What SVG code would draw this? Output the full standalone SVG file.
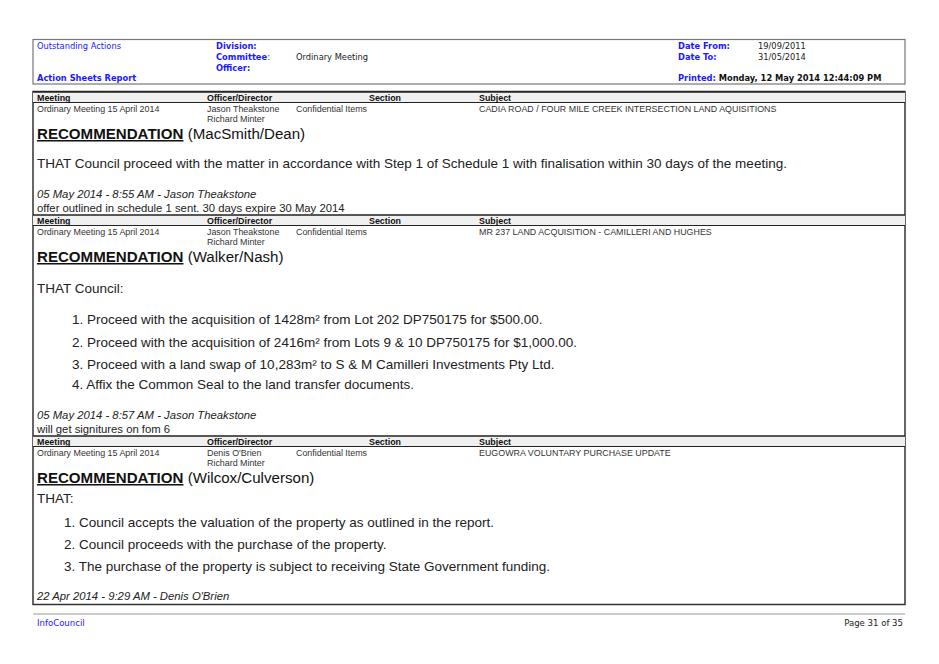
<svg xmlns="http://www.w3.org/2000/svg" width="939" height="664" viewBox="0 0 939 664">
<style>
.h{font-family:"DejaVu Sans",Verdana,sans-serif;font-size:8.3px;fill:#1a1aff}
.hb{font-family:"DejaVu Sans",Verdana,sans-serif;font-size:8.3px;font-weight:bold;fill:#1a1aff}
.hk{font-family:"DejaVu Sans",Verdana,sans-serif;font-size:8.3px;fill:#222}
.th{font-family:"Liberation Sans",Arial,sans-serif;font-size:8.9px;font-weight:bold;fill:#111}
.td{font-family:"Liberation Sans",Arial,sans-serif;font-size:8.9px;fill:#333}
.rec{font-family:"Liberation Sans",Arial,sans-serif;font-size:15.1px;fill:#111}
.b{font-family:"Liberation Sans",Arial,sans-serif;font-size:13.5px;fill:#222}
.it{font-family:"Liberation Sans",Arial,sans-serif;font-size:11.3px;font-style:italic;fill:#222}
.n{font-family:"Liberation Sans",Arial,sans-serif;font-size:11.3px;fill:#222}
</style>
<rect width="939" height="664" fill="#fff"/>
<g id="header">
<rect x="33" y="39.5" width="872" height="44.5" fill="none" stroke="#777" stroke-width="1.2"/>
<text class="h" x="37" y="49">Outstanding Actions</text>
<text class="hb" x="37" y="81">Action Sheets Report</text>
<text class="hb" x="216" y="49">Division:</text>
<text class="hb" x="216" y="60">Committee<tspan font-weight="normal">:</tspan></text>
<text class="hk" x="296" y="60">Ordinary Meeting</text>
<text class="hb" x="216" y="71">Officer:</text>
<text class="hb" x="678" y="49">Date From:</text>
<text class="hk" x="758" y="49">19/09/2011</text>
<text class="hb" x="678" y="60">Date To:</text>
<text class="hk" x="758" y="60">31/05/2014</text>
<text class="hb" x="678" y="81">Printed: <tspan style="fill:#111">Monday, 12 May 2014   12:44:09 PM</tspan></text>
</g>
<g id="table">
<rect x="33" y="91.5" width="872" height="513" fill="none" stroke="#333" stroke-width="1.5"/>
<g id="hdr1">
<rect x="33" y="92" width="872" height="10" fill="#f0f0f0"/>
<line x1="33" y1="92" x2="905" y2="92" stroke="#222" stroke-width="1.5"/>
<line x1="33" y1="102.5" x2="905" y2="102.5" stroke="#222" stroke-width="1"/>
<text class="th" x="37" y="101">Meeting</text><text class="th" x="207" y="101">Officer/Director</text>
<text class="th" x="385" y="101" text-anchor="middle">Section</text><text class="th" x="479" y="101">Subject</text>
<text class="td" x="37" y="112">Ordinary Meeting 15 April 2014</text>
<text class="td" x="207" y="112">Jason Theakstone</text><text class="td" x="207" y="122">Richard Minter</text>
<text class="td" x="296" y="112">Confidential Items</text>
<text class="td" x="479" y="112">CADIA ROAD / FOUR MILE CREEK INTERSECTION LAND AQUISITIONS</text>
<text class="rec" x="37" y="139"><tspan font-weight="bold" text-decoration="underline">RECOMMENDATION</tspan> (MacSmith/Dean)</text>
<text class="b" x="37" y="168">THAT Council proceed with the matter in accordance with Step 1 of  Schedule 1 with finalisation within 30 days of the meeting.</text>
<text class="it" x="37" y="198">05 May 2014 - 8:55 AM - Jason Theakstone</text>
<text class="n" x="37" y="212">offer outlined in schedule 1 sent. 30 days expire 30 May 2014</text>
</g>
<g id="hdr2">
<rect x="33" y="215" width="872" height="10" fill="#f0f0f0"/>
<line x1="33" y1="215" x2="905" y2="215" stroke="#222" stroke-width="1.5"/>
<line x1="33" y1="225.5" x2="905" y2="225.5" stroke="#222" stroke-width="1"/>
<text class="th" x="37" y="224">Meeting</text><text class="th" x="207" y="224">Officer/Director</text>
<text class="th" x="385" y="224" text-anchor="middle">Section</text><text class="th" x="479" y="224">Subject</text>
<text class="td" x="37" y="235">Ordinary Meeting 15 April 2014</text>
<text class="td" x="207" y="235">Jason Theakstone</text><text class="td" x="207" y="245">Richard Minter</text>
<text class="td" x="296" y="235">Confidential Items</text>
<text class="td" x="479" y="235">MR 237 LAND ACQUISITION - CAMILLERI AND HUGHES</text>
<text class="rec" x="37" y="262"><tspan font-weight="bold" text-decoration="underline">RECOMMENDATION</tspan> (Walker/Nash)</text>
<text class="b" x="37" y="293">THAT Council:</text>
<text class="b" x="72" y="324">1. Proceed with the acquisition of 1428m² from Lot 202 DP750175 for $500.00.</text>
<text class="b" x="72" y="347">2. Proceed with the acquisition of 2416m² from Lots 9 &amp; 10 DP750175 for $1,000.00.</text>
<text class="b" x="72" y="369">3. Proceed with a land swap of 10,283m² to S &amp; M Camilleri Investments Pty Ltd.</text>
<text class="b" x="72" y="389">4. Affix the Common Seal to the land transfer documents.</text>
<text class="it" x="37" y="419">05 May 2014 - 8:57 AM - Jason Theakstone</text>
<text class="n" x="37" y="433">will get signitures on fom 6</text>
</g>
<g id="hdr3">
<rect x="33" y="436" width="872" height="10" fill="#f0f0f0"/>
<line x1="33" y1="436" x2="905" y2="436" stroke="#222" stroke-width="1.5"/>
<line x1="33" y1="446.5" x2="905" y2="446.5" stroke="#222" stroke-width="1"/>
<text class="th" x="37" y="445">Meeting</text><text class="th" x="207" y="445">Officer/Director</text>
<text class="th" x="385" y="445" text-anchor="middle">Section</text><text class="th" x="479" y="445">Subject</text>
<text class="td" x="37" y="456">Ordinary Meeting 15 April 2014</text>
<text class="td" x="207" y="456">Denis O'Brien</text><text class="td" x="207" y="466">Richard Minter</text>
<text class="td" x="296" y="456">Confidential Items</text>
<text class="td" x="479" y="456">EUGOWRA VOLUNTARY PURCHASE UPDATE</text>
<text class="rec" x="37" y="483"><tspan font-weight="bold" text-decoration="underline">RECOMMENDATION</tspan> (Wilcox/Culverson)</text>
<text class="b" x="37" y="503">THAT:</text>
<text class="b" x="64" y="527">1.  Council accepts the valuation of the property as outlined in the report.</text>
<text class="b" x="64" y="549">2.  Council proceeds with the purchase of the property.</text>
<text class="b" x="64" y="571">3.  The purchase of the property is subject to receiving State Government funding.</text>
<text class="it" x="37" y="600">22 Apr 2014 - 9:29 AM - Denis O'Brien</text>
</g>
</g>
<g id="footer">
<line x1="33" y1="614" x2="905" y2="614" stroke="#999" stroke-width="1"/>
<text class="h" x="37" y="626" style="font-size:9.5px;font-family:'Liberation Sans Narrow','DejaVu Sans Condensed',sans-serif">InfoCouncil</text>
<text class="hk" x="903" y="626" text-anchor="end" style="font-size:9.5px;font-family:'Liberation Sans Narrow','DejaVu Sans Condensed',sans-serif">Page 31 of 35</text>
</g>
</svg>
